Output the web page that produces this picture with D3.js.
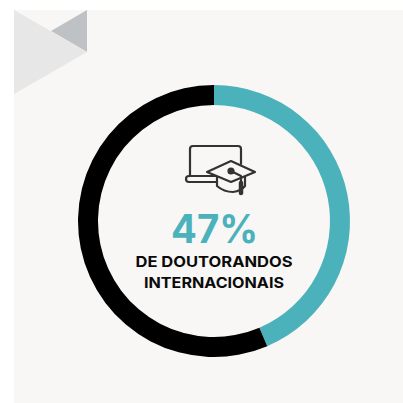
<!DOCTYPE html>
<html><head><meta charset="utf-8">
<script src="https://cdn.jsdelivr.net/npm/d3@7"></script>
<style>html,body{margin:0;padding:0;background:#fff;overflow:hidden}svg{display:block}</style>
</head><body><svg id="c" width="403" height="403"></svg>
<script>
const categories = ["Internacionais", "Outros"];
const values = [43.6, 56.4];
const colors = ["#4bb2bc", "#000000"];
const bigLabel = "47%";
const labelLines = ["DE DOUTORANDOS", "INTERNACIONAIS"];
const labelWidths = [157, 140];

const svg = d3.select("#c");
svg.append("rect").attr("x",14).attr("y",10).attr("width",389).attr("height",393).attr("fill","#f8f7f5");
svg.append("path").attr("d","M87,10L51,31L87,52Z").attr("fill","#bfc2c4");
svg.append("path").attr("d","M14,10L87,52L14,94Z").attr("fill","#e7e7e7");

const pie = d3.pie().sort(null).value(d=>d);
const arc = d3.arc().innerRadius(116).outerRadius(136);
svg.append("g").attr("transform","translate(214,221)")
  .selectAll("path").data(pie(values)).join("path")
  .attr("d",arc).attr("fill",(d,i)=>colors[i]);

svg.append("text").attr("x",214.5).attr("y",243).attr("text-anchor","middle")
  .attr("font-family","Inter").attr("font-weight",700).attr("font-size",39)
  .attr("textLength",87).attr("lengthAdjust","spacingAndGlyphs").attr("fill",colors[0]).text(bigLabel);
svg.selectAll("text.l").data(labelLines).join("text").attr("class","l")
  .attr("x",214).attr("y",(d,i)=>267+i*20.5).attr("text-anchor","middle")
  .attr("font-family","Inter").attr("font-weight",700).attr("font-size",14.5)
  .attr("textLength",(d,i)=>labelWidths[i]).attr("lengthAdjust","spacingAndGlyphs")
  .attr("fill","#0a0a0a").text(d=>d);

const ic = svg.append("g").attr("fill","none").attr("stroke","#333").attr("stroke-width",2.2).attr("stroke-linejoin","round").attr("stroke-linecap","round");
ic.append("path").attr("d","M190,176V149Q190,146 193,146H238Q241,146 241,149V164");
ic.append("path").attr("d","M216,176H189Q186,176 186,179Q186,182 189,182H216");
const hat = svg.append("g").attr("stroke","#333").attr("stroke-width",2.2).attr("stroke-linejoin","round").attr("stroke-linecap","round");
hat.append("path").attr("d","M231,161L255,172L231,182L207,172Z").attr("fill","#f8f7f5");
hat.append("path").attr("d","M217,177V186Q224,192 233,192Q241,191 245,186V177").attr("fill","none");
hat.append("path").attr("d","M231,171L241,176V192").attr("fill","none");
hat.append("circle").attr("cx",231).attr("cy",171).attr("r",2.5).attr("fill","#333");
hat.append("path").attr("d","M241,183V193").attr("stroke-width",4.5).attr("fill","none");
</script></body></html>
